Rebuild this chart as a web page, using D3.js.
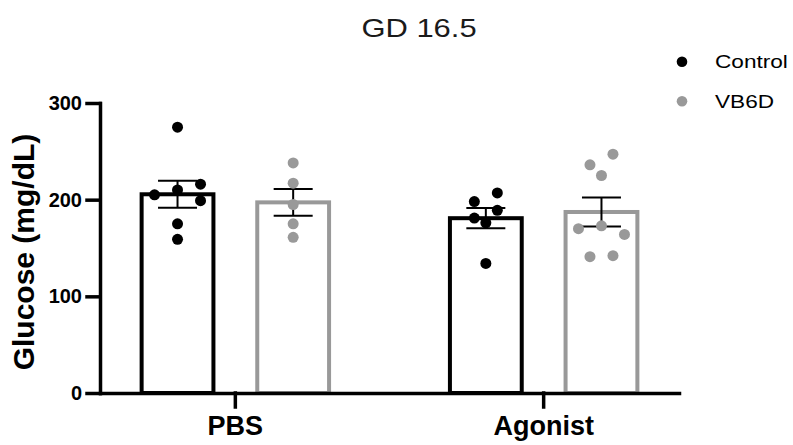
<!DOCTYPE html>
<html lang="en">
<head>
  <meta charset="UTF-8">
  <title>GD 16.5</title>
  <style>
    body{ margin:0; background:#fff; }
    svg{ display:block; font-family:"Liberation Sans", Arial, sans-serif; }
  </style>
</head>
<body>
<svg id="chart" width="793" height="445"></svg>

<script src="https://d3js.org/d3.v7.min.js"></script>
<script>
  "use strict";

  var
    groups = ["PBS", "Agonist"],
    series = ["Control", "VB6D"],
    colors = ["#000000", "#999999"],
    yTicks = [0, 100, 200, 300],
    // glucose readings (mg/dL) per animal
    pbsControl = [275, 205, 210, 216, 199, 175, 159],
    pbsVB6D = [238, 217, 195, 175, 161],
    agonistControl = [198, 207, 181, 189, 176, 134],
    agonistVB6D = [236, 247, 225, 170, 173, 164, 141, 142];

  var values = {
    "PBS": {"Control": pbsControl, "VB6D": pbsVB6D},
    "Agonist": {"Control": agonistControl, "VB6D": agonistVB6D}
  };

  var
    svg = d3.select("#chart"),
    plotLeft = 100, plotRight = 679, plotTop = 103, plotBottom = 393,
    dotR = 5.5,
    dotStep = 23,
    rowGap = 12,
    minDist = 12;

  var y = d3.scaleLinear().domain([0, 300]).range([plotBottom, plotTop]);

  var x0 = d3.scaleBand()
    .domain(groups)
    .range([plotLeft, plotRight])
    .paddingInner(0.392)
    .paddingOuter(0.135);

  var x1 = d3.scaleBand()
    .domain(series)
    .range([0, x0.bandwidth()])
    .paddingInner(0.379);

  // simple column scatter: rows of close values spread side by side
  function spread(vals, cx){
    var order = d3.range(vals.length).sort(function(a, b){ return vals[b] - vals[a]; });
    var rows = [], row = null;
    order.forEach(function(i){
      var py = y(vals[i]);
      if (row && py - row.top < rowGap) row.items.push(i);
      else { row = {top: py, items: [i]}; rows.push(row); }
    });
    var placed = [];
    rows.forEach(function(r){
      var items = r.items.slice().sort(d3.ascending), n = items.length;
      items.forEach(function(i, k){
        var py = y(vals[i]);
        var dx = (k - (n - 1) / 2) * dotStep;
        if (n === 1) {
          dx = [0, dotStep, -dotStep].find(function(t){
            return !placed.some(function(p){ return Math.hypot(p.x - (cx + t), p.y - py) < minDist; });
          });
          if (dx === undefined) dx = 0;
        }
        placed.push({x: cx + dx, y: py});
      });
    });
    return placed;
  }

  var cells = [];
  groups.forEach(function(g){
    series.forEach(function(s, si){
      var v = values[g][s];
      cells.push({
        group: g, series: s, color: colors[si], vals: v,
        mean: d3.mean(v),
        sem: d3.deviation(v) / Math.sqrt(v.length)
      });
    });
  });

  // bars
  svg.append("g")
    .selectAll("rect")
    .data(cells)
    .enter()
    .append("rect")
    .attr("x", function(d){ return x0(d.group) + x1(d.series); })
    .attr("y", function(d){ return y(d.mean); })
    .attr("width", x1.bandwidth())
    .attr("height", function(d){ return y(0) - y(d.mean); })
    .attr("fill", "#fff")
    .attr("stroke", function(d){ return d.color; })
    .attr("stroke-width", 4);

  // error bars
  var err = svg.append("g")
    .attr("stroke", "#000")
    .attr("stroke-width", 2)
    .selectAll("g")
    .data(cells)
    .enter()
    .append("g")
    .attr("transform", function(d){
      return "translate(" + (x0(d.group) + x1(d.series) + x1.bandwidth() / 2) + ",0)";
    });

  err.append("line")
    .attr("y1", function(d){ return y(d.mean + d.sem); })
    .attr("y2", function(d){ return y(d.mean - d.sem); });
  err.append("line")
    .attr("x1", -19.5).attr("x2", 19.5)
    .attr("y1", function(d){ return y(d.mean + d.sem); })
    .attr("y2", function(d){ return y(d.mean + d.sem); });
  err.append("line")
    .attr("x1", -19.5).attr("x2", 19.5)
    .attr("y1", function(d){ return y(d.mean - d.sem); })
    .attr("y2", function(d){ return y(d.mean - d.sem); });

  // points
  cells.forEach(function(c){
    var cx = x0(c.group) + x1(c.series) + x1.bandwidth() / 2;
    svg.append("g")
      .selectAll("circle")
      .data(spread(c.vals, cx))
      .enter()
      .append("circle")
      .attr("cx", function(d){ return d.x; })
      .attr("cy", function(d){ return d.y; })
      .attr("r", dotR)
      .attr("fill", c.color);
  });

  // axes
  var yAxis = svg.append("g")
    .attr("transform", "translate(" + plotLeft + ",0)")
    .call(d3.axisLeft(y).tickValues(yTicks).tickSize(13).tickSizeOuter(0).tickPadding(5));
  yAxis.selectAll("text")
    .attr("font-size", 20);

  var xAxis = svg.append("g")
    .attr("transform", "translate(0," + plotBottom + ")")
    .call(d3.axisBottom(x0).tickSize(14).tickSizeOuter(0).tickPadding(9));
  xAxis.selectAll("text")
    .attr("font-size", 27);

  [yAxis, xAxis].forEach(function(ax){
    ax.selectAll("path, line")
      .attr("stroke", "#000")
      .attr("stroke-width", 3.5)
      .attr("stroke-linecap", "square");
    ax.selectAll("text")
      .attr("fill", "#000")
      .attr("font-weight", "bold")
      .attr("font-family", "'Liberation Sans', Arial, sans-serif");
  });

  // y title
  svg.append("text")
    .attr("transform", "translate(34,252) rotate(-90)")
    .attr("text-anchor", "middle")
    .attr("font-size", 30)
    .attr("font-weight", "bold")
    .text("Glucose (mg/dL)");

  // title
  svg.append("text")
    .attr("transform", "translate(419,37) scale(1.19,1)")
    .attr("text-anchor", "middle")
    .attr("font-size", 26)
    .attr("fill", "#1a1a1a")
    .text("GD 16.5");

  // legend
  var leg = svg.append("g")
    .selectAll("g")
    .data(series)
    .enter()
    .append("g")
    .attr("transform", function(d, i){ return "translate(682," + (61.7 + i * 39.5) + ")"; });

  leg.append("circle")
    .attr("r", 5.3)
    .attr("fill", function(d, i){ return colors[i]; });

  leg.append("text")
    .attr("transform", "translate(33,6.7) scale(1.19,1)")
    .attr("font-size", 19)
    .attr("fill", "#000")
    .text(function(d){ return d; });
</script>
</body>
</html>
